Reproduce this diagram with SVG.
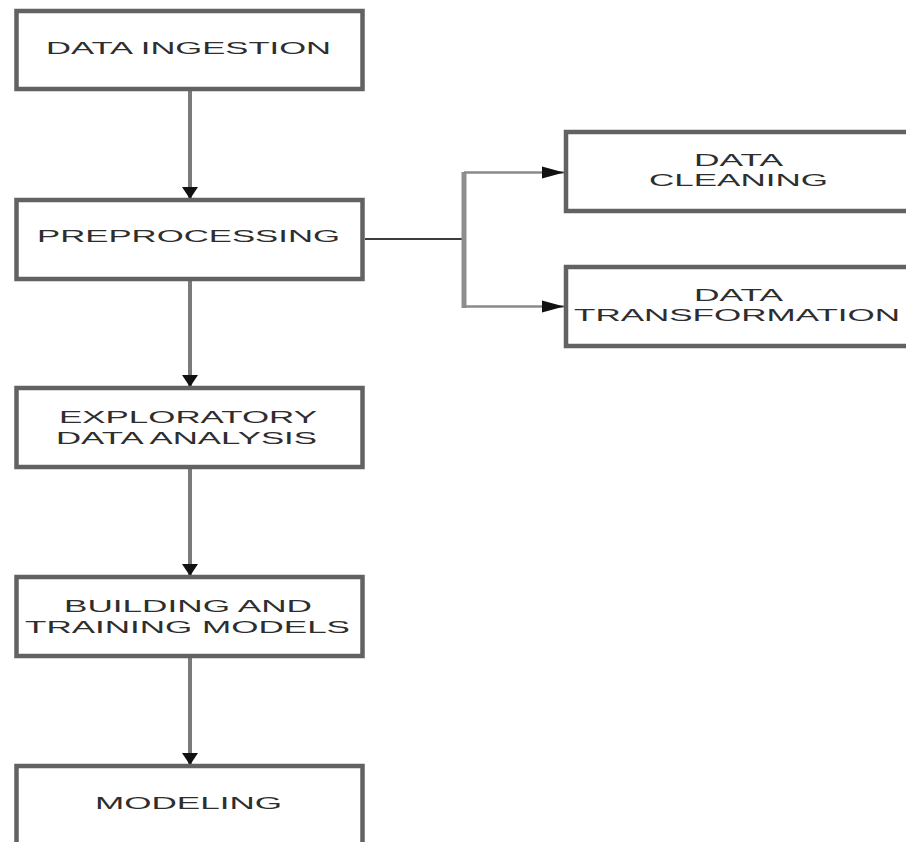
<svg xmlns="http://www.w3.org/2000/svg" width="906" height="842" viewBox="0 0 906 842">
<style>
.box{fill:#fff;stroke:#626262;stroke-width:4.5}
.shadow{fill:none;stroke:#d2d2d2;stroke-width:3}
.lbl{font-family:"Liberation Sans",Arial,sans-serif;font-size:17px;fill:#2e2e2e}
.vcon{stroke:#7a7a7a;stroke-width:4;fill:none}
.hcon{stroke:#8a8a8a;stroke-width:2.5;fill:none}
</style>
<defs>
<marker id="ahV" markerUnits="userSpaceOnUse" markerWidth="20" markerHeight="14" viewBox="0 0 20 14" refX="10" refY="13" orient="0">
<path d="M2,1 L18,1 L10,13 Z" fill="#111"/>
</marker>
<marker id="ahH" markerUnits="userSpaceOnUse" markerWidth="24" markerHeight="14" viewBox="0 0 24 14" refX="23" refY="7" orient="0">
<path d="M1,1 L23,7 L1,13 Z" fill="#111"/>
</marker>
</defs>
<g id="connectors">
<line class="vcon" x1="190" y1="91" x2="190" y2="199" marker-end="url(#ahV)"/>
<line class="vcon" x1="190" y1="280" x2="190" y2="387" marker-end="url(#ahV)"/>
<line class="vcon" x1="190" y1="469" x2="190" y2="576" marker-end="url(#ahV)"/>
<line class="vcon" x1="190" y1="658" x2="190" y2="765" marker-end="url(#ahV)"/>
<line x1="365" y1="239" x2="465" y2="239" stroke="#3c3c3c" stroke-width="2"/>
<line x1="464" y1="172" x2="464" y2="308" stroke="#8e8e8e" stroke-width="5"/>
<line class="hcon" x1="464" y1="172.5" x2="564" y2="172.5" marker-end="url(#ahH)"/>
<line class="hcon" x1="464" y1="306.5" x2="564" y2="306.5" marker-end="url(#ahH)"/>
</g>
<g id="data-ingestion">
<rect class="box" x="16.5" y="11" width="346" height="78"/>
<text class="lbl" x="46" y="54" textLength="285" lengthAdjust="spacingAndGlyphs">DATA INGESTION</text>
</g>
<g id="preprocessing">
<rect class="box" x="16.5" y="200" width="346" height="79"/>
<text class="lbl" x="37" y="242" textLength="303" lengthAdjust="spacingAndGlyphs">PREPROCESSING</text>
</g>
<g id="eda">
<rect class="box" x="16.5" y="388" width="346" height="79"/>
<text class="lbl" x="59" y="423" textLength="258" lengthAdjust="spacingAndGlyphs">EXPLORATORY</text>
<text class="lbl" x="56" y="444" textLength="261" lengthAdjust="spacingAndGlyphs">DATA ANALYSIS</text>
</g>
<g id="building">
<rect class="box" x="16.5" y="577" width="346" height="79"/>
<text class="lbl" x="64" y="612" textLength="248" lengthAdjust="spacingAndGlyphs">BUILDING AND</text>
<text class="lbl" x="25" y="633" textLength="325" lengthAdjust="spacingAndGlyphs">TRAINING MODELS</text>
</g>
<g id="modeling">
<rect class="box" x="16.5" y="766" width="346" height="100"/>
<text class="lbl" x="95" y="809" textLength="187" lengthAdjust="spacingAndGlyphs">MODELING</text>
</g>
<g id="data-cleaning">
<rect class="box" x="566" y="132" width="360" height="79"/>
<text class="lbl" x="694" y="166" textLength="89" lengthAdjust="spacingAndGlyphs">DATA</text>
<text class="lbl" x="649" y="186" textLength="179" lengthAdjust="spacingAndGlyphs">CLEANING</text>
</g>
<g id="data-transformation">
<rect class="box" x="566" y="267" width="360" height="79"/>
<text class="lbl" x="694" y="301" textLength="89" lengthAdjust="spacingAndGlyphs">DATA</text>
<text class="lbl" x="574" y="321" textLength="326" lengthAdjust="spacingAndGlyphs">TRANSFORMATION</text>
</g>
</svg>
